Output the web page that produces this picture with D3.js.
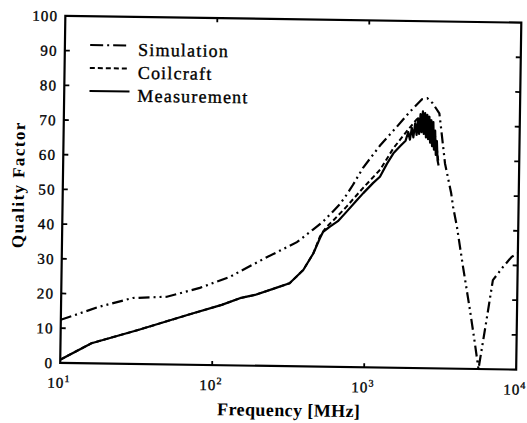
<!DOCTYPE html>
<html><head><meta charset="utf-8">
<script src="https://cdn.jsdelivr.net/npm/d3@7"></script>
<style>body{margin:0;background:#fff}svg{display:block}</style>
</head><body>
<script>
// ---- data ----
const simFreq = [10, 18, 29.6, 49.6, 81.5, 128, 210, 351, 447, 519, 602, 669, 741, 809, 940, 1210, 1550, 1884, 2260, 2450, 2660, 2950, 3050, 3250, 3590, 3710, 3950, 4370, 4900, 5320, 5650, 6310, 6890, 8000, 9120, 10000];
const simQ    = [12.4, 16.4, 19.0, 19.5, 22.2, 25.5, 30.7, 35.8, 39.5, 41.8, 44.8, 47.0, 49.8, 52.5, 57.5, 64.0, 69.4, 73.8, 77.5, 77.8, 76.4, 73.5, 68.7, 59.1, 50.6, 46.6, 40.9, 29.4, 17.0, 7.4, 0, 14.1, 25.7, 29.5, 32.5, 33.5];

const coilFreq = [10, 16, 32.3, 68.7, 114, 150, 188, 250, 317, 389, 451, 497, 540, 600, 741, 949, 1217, 1484, 1815, 2105, 2400, 2600, 2800, 2950];
const coilQ    = [0.9, 5.8, 9.8, 14.4, 17.4, 19.4, 20.4, 22.3, 23.9, 27.8, 32.6, 37.5, 40.0, 42.0, 46.3, 51.8, 57.0, 63.3, 68.3, 71.8, 72.8, 71.0, 66.5, 59.0];

const measFreq = [10, 16, 32.3, 68.7, 114, 150, 188, 250, 317, 389, 451, 497, 521, 577, 650, 741, 850, 949, 1100, 1217, 1350, 1484, 1650, 1780, 1850, 1900, 1950, 2000, 2050, 2100, 2140, 2180, 2220, 2260, 2300, 2340, 2380, 2420, 2460, 2500, 2540, 2580, 2620, 2660, 2700, 2740, 2780, 2820, 2860, 2900, 2950];
const measQ    = [0.9, 5.8, 9.8, 14.4, 17.4, 19.4, 20.4, 22.3, 23.9, 27.8, 32.6, 37.0, 38.9, 40.4, 42.0, 44.8, 47.8, 50.2, 53.2, 55.0, 58.8, 61.8, 64.0, 65.5, 68.0, 65.8, 69.2, 66.5, 70.5, 67.2, 72.0, 67.5, 73.2, 68.0, 74.0, 67.5, 73.5, 66.5, 73.0, 66.0, 72.5, 65.0, 71.5, 64.0, 71.0, 63.0, 68.5, 61.5, 65.5, 60.0, 58.5];

const yTicks = [0, 10, 20, 30, 40, 50, 60, 70, 80, 90, 100];
const xTickExp = [1, 2, 3, 4];
const legendLabels = ["Simulation", "Coilcraft", "Measurement"];
const xTitle = "Frequency [MHz]";
const yTitle = "Quality Factor";

// ---- layout ----
const W = 527, H = 423;
const L = 62.75, R = 518.75, T = 19.25, B = 366.25;
const svg = d3.select("body").append("svg").attr("width", W).attr("height", H);
const g = svg.append("g").attr("transform", `rotate(0.85, ${(L+R)/2}, ${(T+B)/2})`);

const x = d3.scaleLog().domain([10, 10000]).range([L, R]);
const y = d3.scaleLinear().domain([0, 100]).range([B, T]);

const font = "'Liberation Serif', 'Times New Roman', serif";

// ticks (inward)
const inner = [10,20,30,40,50,60,70,80,90];
g.selectAll(".lt").data(inner).join("line")
  .attr("x1", L).attr("x2", L + 5).attr("y1", d => y(d)).attr("y2", d => y(d))
  .attr("stroke", "#000").attr("stroke-width", 1.8);
g.selectAll(".rt").data(inner).join("line")
  .attr("x1", R).attr("x2", R - 5).attr("y1", d => y(d)).attr("y2", d => y(d))
  .attr("stroke", "#000").attr("stroke-width", 1.8);
const midDec = [100, 1000];
g.selectAll(".bt").data(midDec).join("line")
  .attr("x1", d => x(d)).attr("x2", d => x(d)).attr("y1", B).attr("y2", B - 4)
  .attr("stroke", "#000").attr("stroke-width", 1.8);
g.selectAll(".tt").data(midDec).join("line")
  .attr("x1", d => x(d)).attr("x2", d => x(d)).attr("y1", T).attr("y2", T + 4)
  .attr("stroke", "#000").attr("stroke-width", 1.8);

// y tick labels
g.selectAll(".yl").data(yTicks).join("text")
  .attr("x", L - 7).attr("y", d => y(d)).attr("dy", "0.36em")
  .attr("text-anchor", "end").attr("font-family", font).attr("font-size", 15)
  .attr("letter-spacing", 1.2).attr("stroke", "#000").attr("stroke-width", 0.35).text(d => d);

// x tick labels 10^n
const xl = g.selectAll(".xl").data(xTickExp).join("text")
  .attr("x", d => x(Math.pow(10, d)) - 1).attr("y", B + 25)
  .attr("text-anchor", "middle").attr("font-family", font).attr("font-size", 15)
  .attr("letter-spacing", 1).attr("stroke", "#000").attr("stroke-width", 0.35);
xl.append("tspan").text("10");
xl.append("tspan").attr("dy", -6).attr("font-size", 10).text(d => d);

// axis titles
g.append("text").attr("x", 292).attr("y", B + 50).attr("text-anchor", "middle")
  .attr("font-family", font).attr("font-size", 18).attr("font-weight", "bold")
  .attr("letter-spacing", 0.4).text(xTitle);
g.append("text").attr("transform", `translate(24, ${(T+B)/2 - 4}) rotate(-90)`)
  .attr("text-anchor", "middle").attr("font-family", font).attr("font-size", 17)
  .attr("font-weight", "bold").attr("letter-spacing", 1.4).text(yTitle);

// clip
g.append("clipPath").attr("id", "clip").append("rect")
  .attr("x", L).attr("y", T).attr("width", R - L).attr("height", B - T);

const line = d3.line().x(d => x(d[0])).y(d => y(d[1]));
const plot = g.append("g").attr("clip-path", "url(#clip)");
const simDash = "11,4,2,4,2,4";
const coilDash = "5,3";

plot.append("path").datum(d3.zip(simFreq, simQ)).attr("d", line)
  .attr("fill", "none").attr("stroke", "#000").attr("stroke-width", 2.2).attr("stroke-dasharray", simDash);
plot.append("path").datum(d3.zip(coilFreq, coilQ)).attr("d", line)
  .attr("fill", "none").attr("stroke", "#000").attr("stroke-width", 2).attr("stroke-dasharray", coilDash);
plot.append("path").datum(d3.zip(measFreq, measQ)).attr("d", line)
  .attr("fill", "none").attr("stroke", "#000").attr("stroke-width", 2.2).attr("stroke-linejoin", "round");

// frame
g.append("rect").attr("x", L).attr("y", T).attr("width", R - L).attr("height", B - T)
  .attr("fill", "none").attr("stroke", "#000").attr("stroke-width", 2.2);

// legend
const legDash = ["13,4,2,4", coilDash, null];
const leg = g.selectAll(".leg").data(legendLabels).join("g")
  .attr("transform", (d, i) => `translate(88, ${48 + i * 23})`);
leg.append("line").attr("x1", 0).attr("x2", 40).attr("y1", 0).attr("y2", 0)
  .attr("stroke", "#000").attr("stroke-width", 2)
  .attr("stroke-dasharray", (d, i) => legDash[i]);
leg.append("text").attr("x", 48).attr("y", 10).attr("font-family", font)
  .attr("font-size", 18).attr("letter-spacing", 1.2)
  .attr("stroke", "#000").attr("stroke-width", 0.35).text(d => d);
</script>
</body></html>
